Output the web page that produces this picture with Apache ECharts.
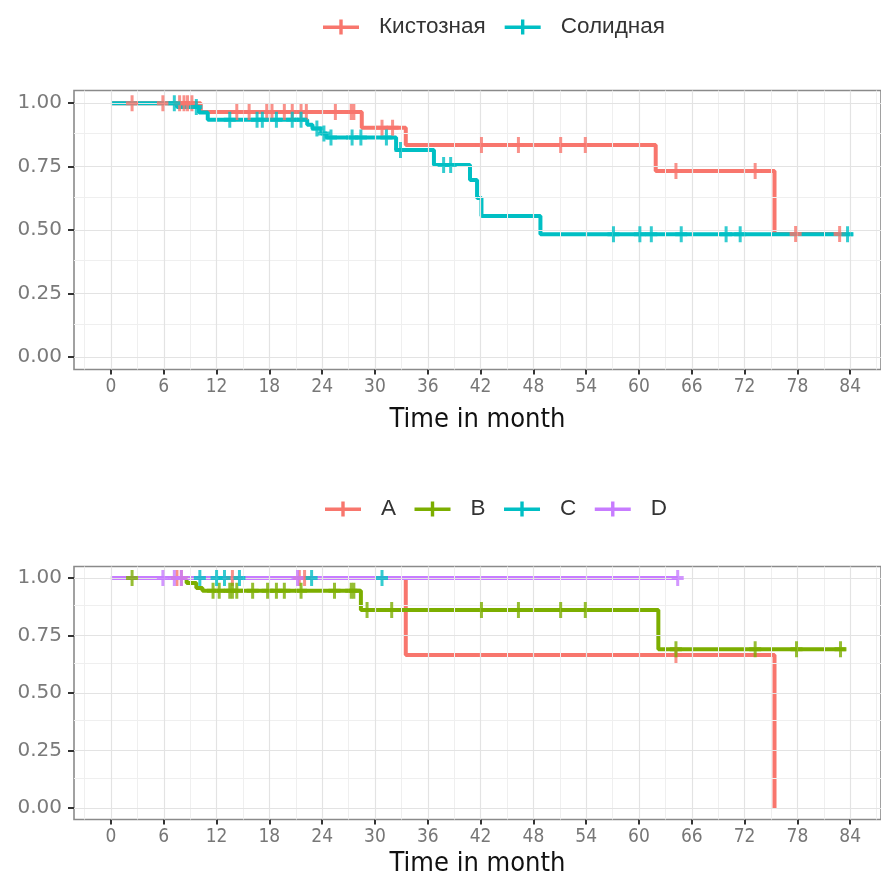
<!DOCTYPE html>
<html><head><meta charset="utf-8">
<script src="https://cdn.jsdelivr.net/npm/echarts@6/dist/echarts.min.js"></script>
<style>html,body{margin:0;padding:0;background:#fff}#c{width:881px;height:877px}</style>
</head><body><div id="c"></div>
<script>
// ---- tick labels ----
const xTicks = [0, 6, 12, 18, 24, 30, 36, 42, 48, 54, 60, 66, 72, 78, 84];
const xMinor = [-3, 3, 9, 15, 21, 27, 33, 39, 45, 51, 57, 63, 69, 75, 81, 87];
const yTicks = [0, 0.25, 0.5, 0.75, 1];
const yMinor = [0.125, 0.375, 0.625, 0.875];

// ---- top chart: Кистозная / Солидная ----
const topNames = ['Кистозная', 'Солидная'];
const cysticT = [0, 10.2, 28.5, 33.5, 61.9, 75.4, 82.8];
const cysticS = [1, 0.965, 0.903, 0.835, 0.733, 0.484, 0.484];
const cysticCens = [2.4, 5.9, 7.8, 8.3, 8.7, 9.2, 14.3, 15.7, 17.7, 18.3, 19.7, 20.6, 21.6, 22.2, 25.5, 27.3, 27.6, 30.8, 32.0, 42.1, 46.3, 51.1, 53.9, 64.2, 73.2, 77.8, 82.8];
const solidT = [0, 7.5, 10.0, 11.0, 22.3, 22.9, 23.9, 24.5, 32.4, 36.7, 40.8, 41.6, 42.1, 48.8, 84.3];
const solidS = [1, 0.985, 0.963, 0.935, 0.915, 0.90, 0.88, 0.865, 0.815, 0.756, 0.697, 0.626, 0.555, 0.483, 0.483];
const solidCens = [7.2, 9.7, 13.5, 16.6, 17.2, 18.8, 20.6, 21.6, 23.4, 24.2, 25.0, 27.4, 28.4, 31.3, 32.9, 37.8, 38.6, 57.1, 60.1, 61.4, 64.8, 69.9, 71.5, 83.7];

// ---- bottom chart: A B C D ----
const botNames = ['A', 'B', 'C', 'D'];
const aT = [0, 33.5, 75.4];
const aS = [1, 0.665, 0];
const aCens = [7.5, 8.0, 13.8, 21.4, 22.0, 64.2];
const bT = [0, 8.6, 9.7, 10.4, 28.4, 62.2, 83.5];
const bS = [1, 0.978, 0.957, 0.945, 0.861, 0.69, 0.69];
const bCens = [2.4, 11.6, 12.3, 13.5, 13.8, 14.3, 16.1, 17.8, 18.8, 19.7, 21.6, 25.4, 27.3, 27.6, 29.1, 31.9, 42.1, 46.3, 51.1, 53.9, 64.2, 73.2, 77.9, 82.9];
const cT = [0, 30.8];
const cS = [1, 1];
const cCens = [10.1, 12.0, 12.9, 14.6, 22.8, 30.8];
const dT = [0, 64.4];
const dS = [1, 1];
const dCens = [5.9, 7.2, 8.0, 21.2, 64.4];

const colors = { red: '#F8766D', teal: '#00BFC4', green: '#7CAE00', purple: '#C77CFF' };

function survAt(T, S, t) {
  let v = S[0];
  for (let i = 0; i < T.length; i++) { if (T[i] <= t) v = S[i]; }
  return v;
}
const pairs = (T, S) => T.map((t, i) => [t, S[i]]);
const censPts = (T, S, C) => C.map(t => [t, survAt(T, S, t)]);

const plusSym = 'path://M-2.5,-10H2.5V-2.5H10V2.5H2.5V10H-2.5V2.5H-10V-2.5H-2.5Z';
const legendIcon = 'path://M0,6H36V9.5H0Z M16.3,0H19.7V15H16.3Z';
const tickFont = '"Liberation Sans Narrow", "DejaVu Sans Condensed", "Liberation Sans", sans-serif';

function gridSeries(idx) {
  const major = { color: '#e3e3e3', width: 1.2, type: 'solid' };
  const minor = { color: '#efefef', width: 1, type: 'solid' };
  const data = [];
  xMinor.forEach(v => data.push({ xAxis: v, lineStyle: minor }));
  yMinor.forEach(v => data.push({ yAxis: v, lineStyle: minor }));
  xTicks.forEach(v => data.push({ xAxis: v, lineStyle: major }));
  yTicks.forEach(v => data.push({ yAxis: v, lineStyle: major }));
  return {
    type: 'line', xAxisIndex: idx, yAxisIndex: idx, data: [[0, 1]], symbol: 'none',
    lineStyle: { opacity: 0 }, silent: true, z: 0, tooltip: { show: false },
    markLine: { silent: true, symbol: 'none', label: { show: false }, animation: false, data: data }
  };
}
function kmLine(name, idx, T, S, color) {
  return { name, type: 'line', step: 'end', xAxisIndex: idx, yAxisIndex: idx,
    data: pairs(T, S), symbol: 'none', lineStyle: { color, width: 4 }, itemStyle: { color }, z: 3 };
}
function cens(idx, T, S, C, color) {
  return { type: 'scatter', xAxisIndex: idx, yAxisIndex: idx, data: censPts(T, S, C),
    symbol: plusSym, symbolSize: [12, 16], itemStyle: { color }, z: 5 };
}
function xAx(idx, gap) {
  return { type: 'value', gridIndex: idx, min: -4.2, max: 87.5,
    axisLine: { show: false, onZero: false }, splitLine: { show: false },
    axisTick: { show: true, customValues: xTicks, length: 5, lineStyle: { color: '#333', width: 2 } },
    axisLabel: { customValues: xTicks, margin: 8, fontSize: 19, color: '#777', fontFamily: tickFont },
    name: 'Time in month', nameLocation: 'middle', nameGap: gap,
    nameTextStyle: { fontSize: 27, color: '#111', fontFamily: tickFont } };
}
function yAx(idx) {
  return { type: 'value', gridIndex: idx, min: -0.05, max: 1.05,
    axisLine: { show: false, onZero: false }, splitLine: { show: false },
    axisTick: { show: true, customValues: yTicks, length: 6, lineStyle: { color: '#333', width: 2 } },
    axisLabel: { customValues: yTicks, margin: 12, fontSize: 20, color: '#7a7a7a',
      fontFamily: '"DejaVu Sans", sans-serif', formatter: v => v.toFixed(2) } };
}
function legendAt(names, left, top, gap) {
  return { data: names, left, top, padding: 0, icon: legendIcon, itemWidth: 36, itemHeight: 15, itemGap: gap,
    textStyle: { fontSize: 22.5, lineHeight: 15, color: '#333', fontFamily: '"Liberation Sans", Arial, sans-serif', padding: [0, 0, 0, 15] } };
}

const chart = echarts.init(document.getElementById('c'), null, { renderer: 'canvas' });
chart.setOption({
  animation: false,
  backgroundColor: '#fff',
  legend: [legendAt(topNames, 323, 15.5, 19), legendAt(botNames, 325, 497.5, 18.5)],
  grid: [
    { left: 74, top: 90.5, width: 807, height: 279, show: true, borderColor: '#8a8a8a', borderWidth: 1.6, backgroundColor: '#fff', outerBoundsMode: 'none', containLabel: false },
    { left: 74, top: 566.5, width: 807, height: 253, show: true, borderColor: '#8a8a8a', borderWidth: 1.6, backgroundColor: '#fff', outerBoundsMode: 'none', containLabel: false }
  ],
  xAxis: [xAx(0, 37), xAx(1, 31)],
  yAxis: [yAx(0), yAx(1)],
  series: [
    gridSeries(0), gridSeries(1),
    kmLine(topNames[0], 0, cysticT, cysticS, colors.red),
    kmLine(topNames[1], 0, solidT, solidS, colors.teal),
    cens(0, cysticT, cysticS, cysticCens, colors.red),
    cens(0, solidT, solidS, solidCens, colors.teal),
    kmLine(botNames[0], 1, aT, aS, colors.red),
    kmLine(botNames[1], 1, bT, bS, colors.green),
    kmLine(botNames[2], 1, cT, cS, colors.teal),
    kmLine(botNames[3], 1, dT, dS, colors.purple),
    cens(1, aT, aS, aCens, colors.red),
    cens(1, bT, bS, bCens, colors.green),
    cens(1, cT, cS, cCens, colors.teal),
    cens(1, dT, dS, dCens, colors.purple)
  ]
});
</script>
</body></html>
